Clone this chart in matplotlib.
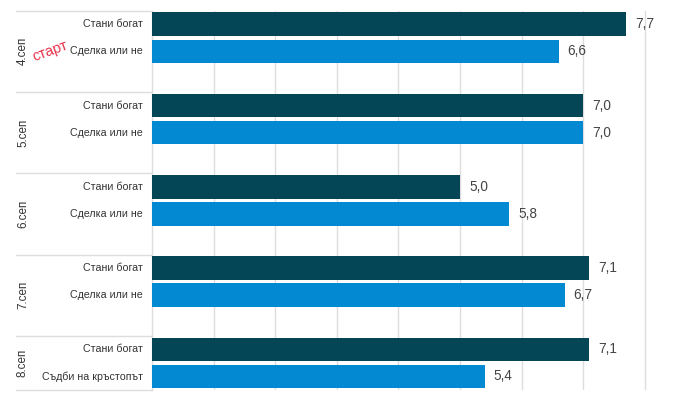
import matplotlib.pyplot as plt
import matplotlib.transforms as mtransforms

plt.rcParams['font.family'] = ['Liberation Sans', 'DejaVu Sans']

dates = ['4.сеп', '5.сеп', '6.сеп', '7.сеп', '8.сеп']
shows = [['Стани богат', 'Сделка или не'],
         ['Стани богат', 'Сделка или не'],
         ['Стани богат', 'Сделка или не'],
         ['Стани богат', 'Сделка или не'],
         ['Стани богат', 'Съдби на кръстопът']]
values = [[7.7, 6.6],
          [7.0, 7.0],
          [5.0, 5.8],
          [7.1, 6.7],
          [7.1, 5.4]]
bar_colors = ['#044655', '#0289d1']

W, H = 695, 398
fig = plt.figure(figsize=(W / 100, H / 100), dpi=100)
left_px, top_px, bottom_px = 152, 10.7, 390
unit_px = 61.6
xmax = 8.6
ax = fig.add_axes([left_px / W, 1 - bottom_px / H,
                   xmax * unit_px / W, (bottom_px - top_px) / H])

# 3 slots per group, the third one is empty
for i, (vals, labels) in enumerate(zip(values, shows)):
    for j, v in enumerate(vals):
        y = i * 3 + j
        ax.barh(y, v, height=0.87, color=bar_colors[j], zorder=3)
        ax.text(v + 9 / unit_px, y, f'{v:.1f}'.replace('.', ','),
                va='center', ha='left', fontsize=9.8, color='#444444')
        ax.text(-9 / unit_px, y, labels[j], va='center', ha='right',
                fontsize=7.7, color='#333333', clip_on=False)

ax.set_xlim(0, xmax)
ax.set_ylim(13.5, -0.5)
ax.set_xticks(range(1, 9))
ax.set_yticks([])
ax.tick_params(axis='x', length=0, labelbottom=False)
ax.grid(axis='x', color='#dddddd', linewidth=1, zorder=0)
for s in ['top', 'right', 'bottom']:
    ax.spines[s].set_visible(False)
ax.spines['left'].set_color('#dddddd')
ax.spines['left'].set_linewidth(1)

# group separators and rotated group labels in the label area
trans = mtransforms.blended_transform_factory(fig.transFigure, ax.transData)
for k in range(len(dates) + 1):
    yb = min(k * 3 - 0.5, 13.5)
    ax.plot([16 / W, left_px / W], [yb, yb], color='#dddddd', lw=1,
            transform=trans, clip_on=False)
for i, d in enumerate(dates):
    yc = min(i * 3 + 1.0, (i * 3 - 0.5 + 13.5) / 2)
    ax.text(23 / W, yc, d, rotation=90, va='center', ha='center',
            fontsize=8.4, color='#333333', transform=trans)

fig.text(50 / W, 1 - 51 / H, 'старт', rotation=20, color='#e8334a',
         fontsize=10.5, ha='center', va='center')

fig.savefig('out.png', dpi=100)
